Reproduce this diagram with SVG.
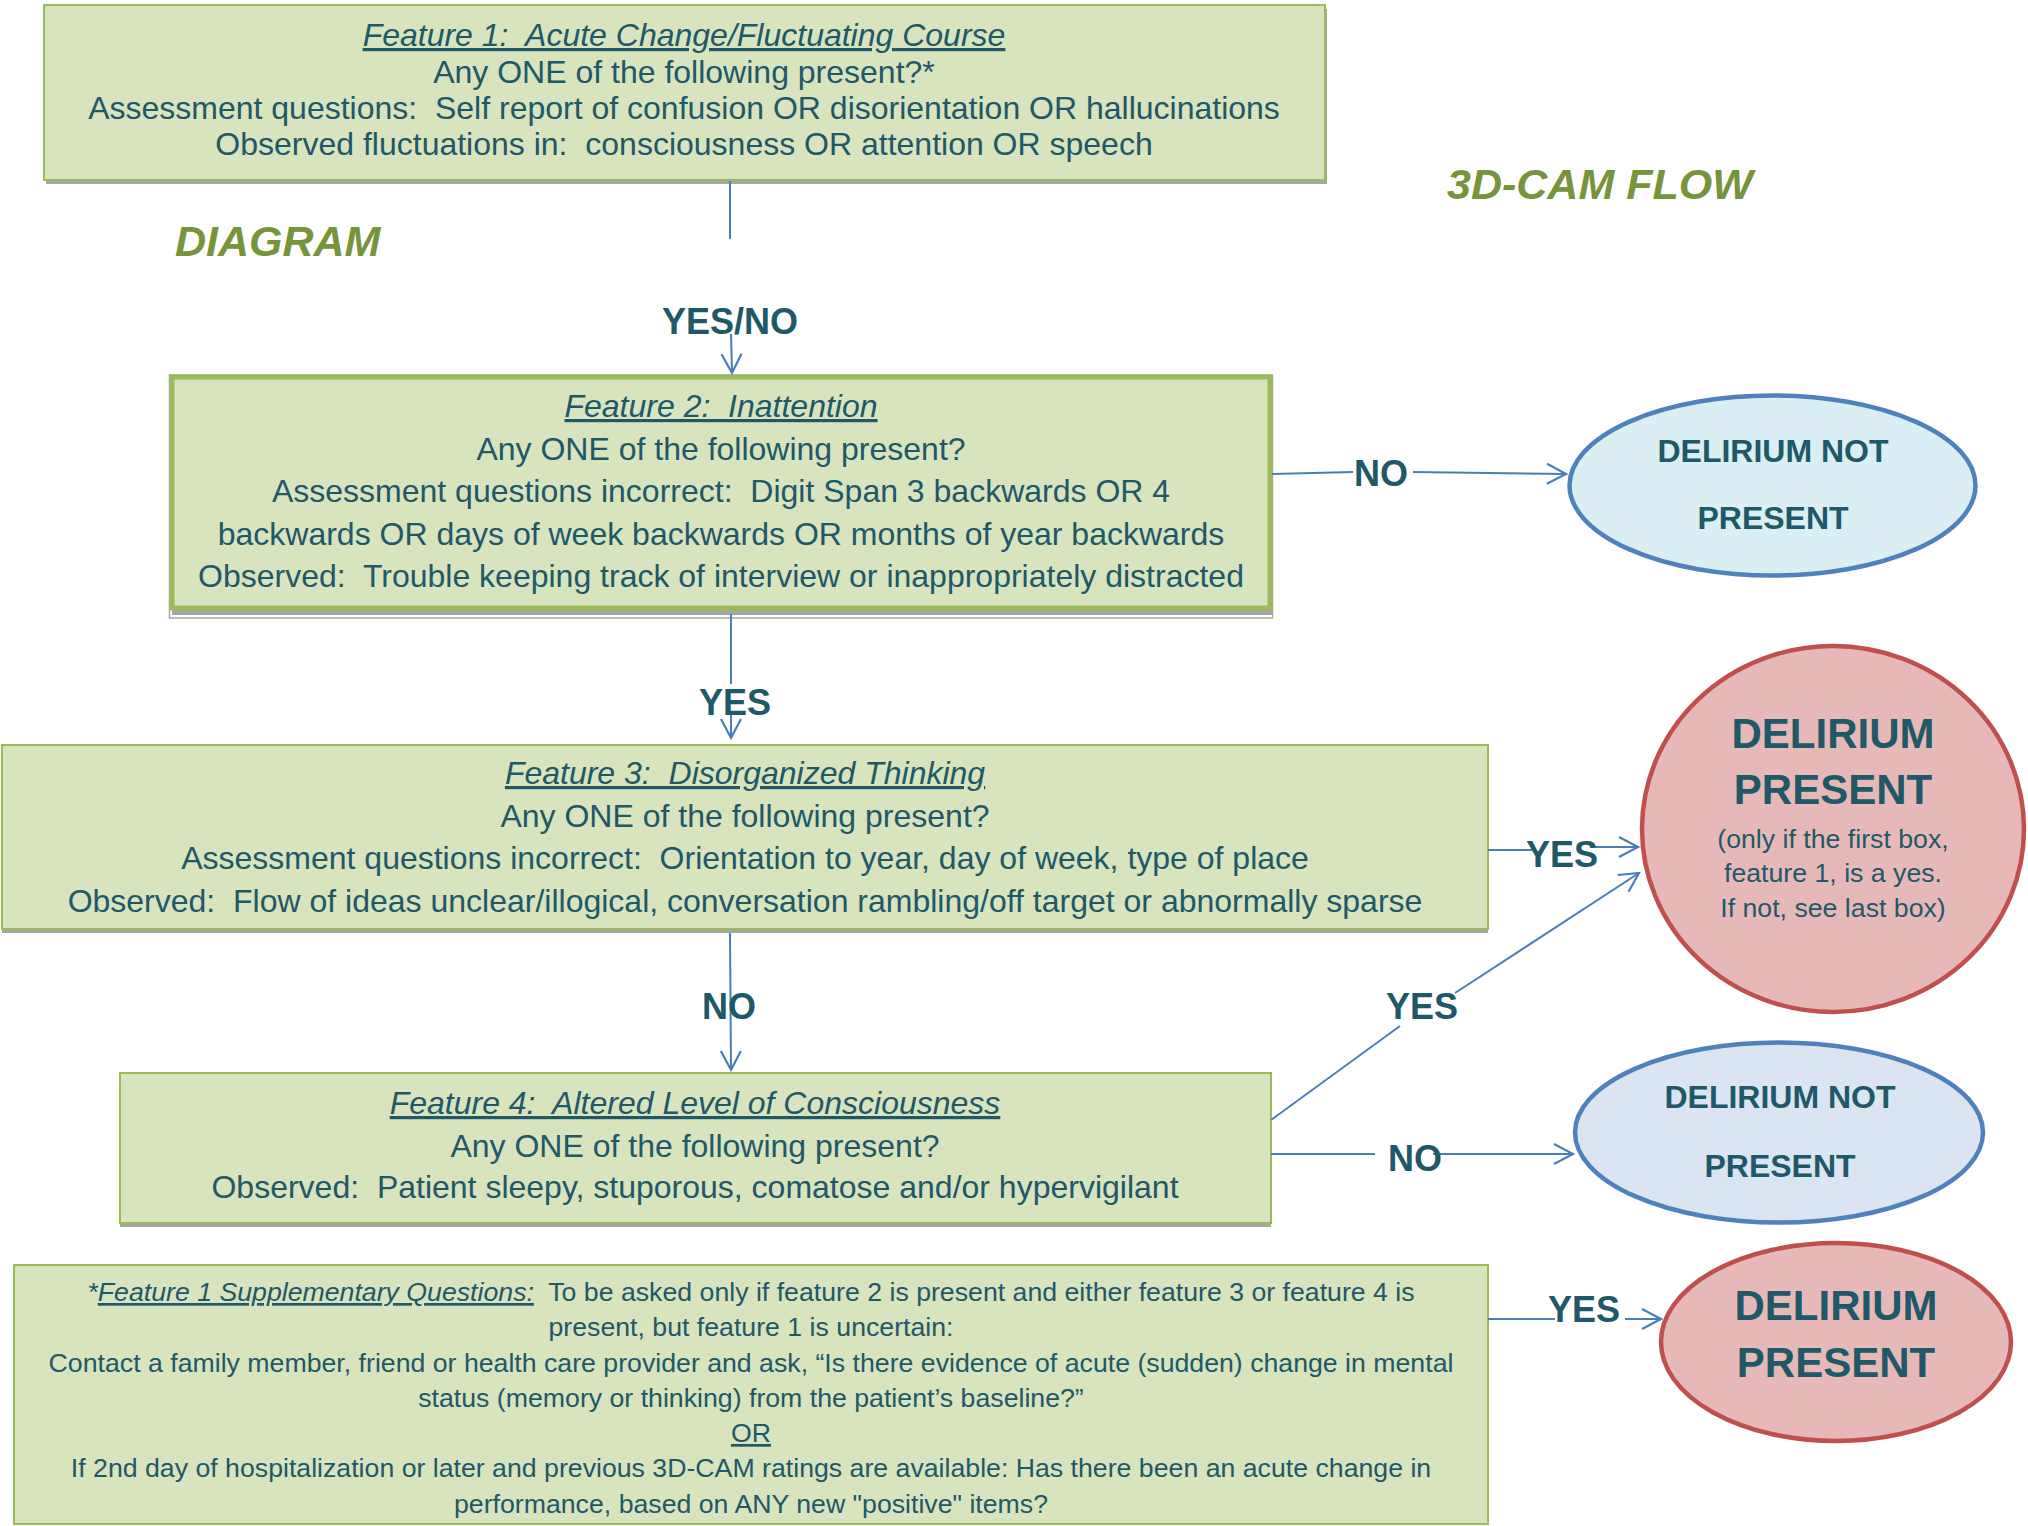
<svg xmlns="http://www.w3.org/2000/svg" width="2028" height="1526" viewBox="0 0 2028 1526" xml:space="preserve">
<defs>
<style>
.box{fill:#d7e4bd;stroke:#9bbb59;stroke-width:2}
.shadow{fill:#a5a5a5}
.t{font-family:"Liberation Sans",Arial,sans-serif;fill:#215868;text-anchor:middle;white-space:pre}
.f32{font-size:32px}
.f27{font-size:26.7px}
.lbl{font-size:36px;font-weight:bold}
.ob{font-size:32px;font-weight:bold}
.big{font-size:42px;font-weight:bold}
.ti{font-style:italic;text-decoration:underline}
.conn{stroke:#4a7ebb;stroke-width:2;fill:none}
.arr{marker-end:url(#ah)}
.hd{font-family:"Liberation Sans",Arial,sans-serif;font-weight:bold;font-style:italic;font-size:43px;fill:#77933c}
.ovb{fill:#daeef3;stroke:#4f81bd;stroke-width:4.5}
.ovb2{fill:#dbe5f1;stroke:#4f81bd;stroke-width:4.5}
.ovr{fill:#e6b9b8;stroke:#c0504d;stroke-width:4.5}
</style>
<marker id="ah" markerUnits="userSpaceOnUse" markerWidth="26" markerHeight="26" refX="19" refY="10" orient="auto" overflow="visible">
<path d="M0,0 L19,10 L0,20" fill="none" stroke="#4a7ebb" stroke-width="2.2"/>
</marker>
</defs>
<rect width="2028" height="1526" fill="#ffffff"/>

<text class="hd" x="1447" y="199">3D-CAM FLOW</text>
<text class="hd" x="175" y="256">DIAGRAM</text>

<g id="feature1">
<rect class="shadow" x="46" y="9" width="1281" height="175"/>
<rect class="box" x="44" y="5" width="1281" height="175"/>
<text class="t f32" x="684" y="46"><tspan class="ti">Feature 1:  Acute Change/Fluctuating Course</tspan></text>
<text class="t f32" x="684" y="83">Any ONE of the following present?*</text>
<text class="t f32" x="684" y="119">Assessment questions:  Self report of confusion OR disorientation OR hallucinations</text>
<text class="t f32" x="684" y="155">Observed fluctuations in:  consciousness OR attention OR speech</text>
</g>

<g id="feature2">
<rect x="169.5" y="375" width="1103" height="243" fill="none" stroke="#a6a6a6" stroke-width="1.5"/>
<rect class="shadow" x="172" y="381" width="1100" height="234"/>
<rect class="box" x="172" y="377" width="1098" height="231" style="stroke-width:5"/>
<text class="t f32" x="721" y="417"><tspan class="ti">Feature 2:  Inattention</tspan></text>
<text class="t f32" x="721" y="460">Any ONE of the following present?</text>
<text class="t f32" x="721" y="502">Assessment questions incorrect:  Digit Span 3 backwards OR 4</text>
<text class="t f32" x="721" y="545">backwards OR days of week backwards OR months of year backwards</text>
<text class="t f32" x="721" y="587">Observed:  Trouble keeping track of interview or inappropriately distracted</text>
</g>

<g id="feature3">
<rect class="shadow" x="2" y="749" width="1486" height="184"/>
<rect class="box" x="2" y="745" width="1486" height="184"/>
<text class="t f32" x="745" y="784"><tspan class="ti">Feature 3:  Disorganized Thinking</tspan></text>
<text class="t f32" x="745" y="827">Any ONE of the following present?</text>
<text class="t f32" x="745" y="869">Assessment questions incorrect:  Orientation to year, day of week, type of place</text>
<text class="t f32" x="745" y="912">Observed:  Flow of ideas unclear/illogical, conversation rambling/off target or abnormally sparse</text>
</g>

<g id="feature4">
<rect class="shadow" x="120" y="1077" width="1151" height="150"/>
<rect class="box" x="120" y="1073" width="1151" height="150"/>
<text class="t f32" x="695" y="1114"><tspan class="ti">Feature 4:  Altered Level of Consciousness</tspan></text>
<text class="t f32" x="695" y="1157">Any ONE of the following present?</text>
<text class="t f32" x="695" y="1198">Observed:  Patient sleepy, stuporous, comatose and/or hypervigilant</text>
</g>

<g id="supplementary">
<rect class="box" x="14" y="1265" width="1474" height="259"/>
<text class="t f27" x="751" y="1301"><tspan font-style="italic">*</tspan><tspan class="ti">Feature 1 Supplementary Questions:</tspan>  To be asked only if feature 2 is present and either feature 3 or feature 4 is</text>
<text class="t f27" x="751" y="1336">present, but feature 1 is uncertain:</text>
<text class="t f27" x="751" y="1372">Contact a family member, friend or health care provider and ask, “Is there evidence of acute (sudden) change in mental</text>
<text class="t f27" x="751" y="1407">status (memory or thinking) from the patient’s baseline?”</text>
<text class="t f27" x="751" y="1442"><tspan text-decoration="underline">OR</tspan></text>
<text class="t f27" x="751" y="1477">If 2nd day of hospitalization or later and previous 3D-CAM ratings are available: Has there been an acute change in</text>
<text class="t f27" x="751" y="1513">performance, based on ANY new "positive" items?</text>
</g>

<g id="not-present-1">
<ellipse class="ovb" cx="1772.5" cy="485.5" rx="203" ry="90"/>
<text class="t ob" x="1773" y="462">DELIRIUM NOT</text>
<text class="t ob" x="1773" y="529">PRESENT</text>
</g>

<g id="present-1">
<ellipse class="ovr" cx="1833" cy="829" rx="191" ry="183"/>
<text class="t big" x="1833" y="748">DELIRIUM</text>
<text class="t big" x="1833" y="804">PRESENT</text>
<text class="t f27" x="1833" y="848">(only if the first box,</text>
<text class="t f27" x="1833" y="882">feature 1, is a yes.</text>
<text class="t f27" x="1833" y="917">If not, see last box)</text>
</g>

<g id="not-present-2">
<ellipse class="ovb2" cx="1779" cy="1132.5" rx="204" ry="90"/>
<text class="t ob" x="1780" y="1108">DELIRIUM NOT</text>
<text class="t ob" x="1780" y="1177">PRESENT</text>
</g>

<g id="present-2">
<ellipse class="ovr" cx="1836" cy="1342" rx="175" ry="99"/>
<text class="t big" x="1836" y="1320">DELIRIUM</text>
<text class="t big" x="1836" y="1377">PRESENT</text>
</g>

<g id="connectors">
<line class="conn" x1="730" y1="181" x2="730" y2="239"/>
<line class="conn arr" x1="731" y1="334" x2="732" y2="373"/>
<line class="conn" x1="731" y1="614" x2="731" y2="684"/>
<line class="conn arr" x1="731" y1="714" x2="731" y2="738"/>
<line class="conn arr" x1="730" y1="933" x2="731" y2="1070"/>
<line class="conn" x1="1272" y1="474" x2="1353" y2="472"/>
<line class="conn arr" x1="1413" y1="472" x2="1566" y2="474"/>
<line class="conn" x1="1488" y1="850" x2="1532" y2="850"/>
<line class="conn arr" x1="1590" y1="847" x2="1638" y2="847"/>
<line class="conn" x1="1271" y1="1120" x2="1400" y2="1026"/>
<line class="conn arr" x1="1455" y1="993" x2="1639" y2="873"/>
<line class="conn" x1="1271" y1="1154" x2="1375" y2="1154"/>
<line class="conn arr" x1="1433" y1="1154" x2="1573" y2="1154"/>
<line class="conn" x1="1488" y1="1319" x2="1555" y2="1319"/>
<line class="conn arr" x1="1625" y1="1319" x2="1661" y2="1319"/>
<text class="t lbl" x="730" y="334">YES/NO</text>
<text class="t lbl" x="735" y="715">YES</text>
<text class="t lbl" x="729" y="1019">NO</text>
<text class="t lbl" x="1381" y="486">NO</text>
<text class="t lbl" x="1562" y="867">YES</text>
<text class="t lbl" x="1422" y="1019">YES</text>
<text class="t lbl" x="1415" y="1171">NO</text>
<text class="t lbl" x="1584" y="1322">YES</text>
</g>
</svg>
